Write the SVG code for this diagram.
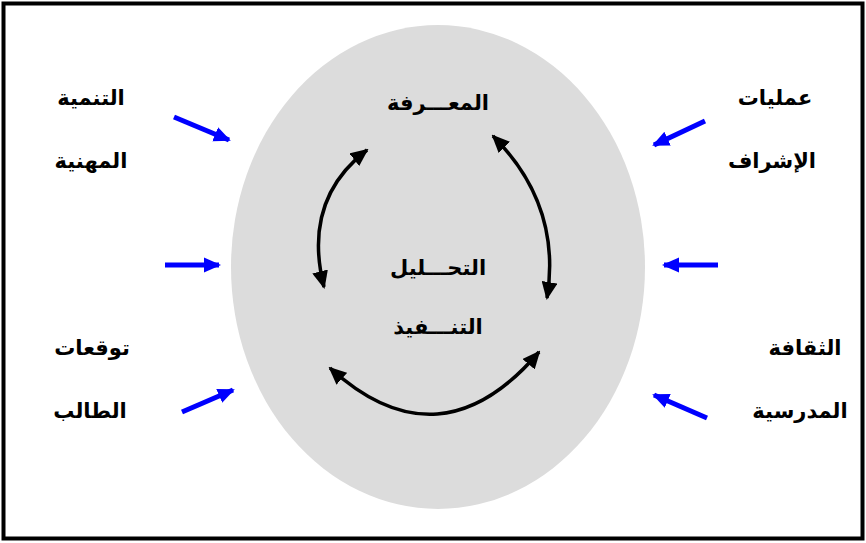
<svg xmlns="http://www.w3.org/2000/svg" width="866" height="543" viewBox="0 0 866 543">
<style>
.lbl{font-family:"DejaVu Sans","Noto Sans",sans-serif;font-weight:bold;font-size:21px;fill:#000;text-anchor:middle;direction:rtl}
.blue{stroke:#0000FF;stroke-width:5;fill:none;marker-end:url(#bh)}
.blk{stroke:#000;stroke-width:3.5;fill:none;marker-start:url(#kh);marker-end:url(#kh)}
</style>
<defs>
<marker id="bh" markerUnits="userSpaceOnUse" markerWidth="17" markerHeight="17" refX="15" refY="8.5" orient="auto"><path d="M0,1 L17,8.5 L0,16 Z" fill="#0000FF"/></marker>
<marker id="kh" markerUnits="userSpaceOnUse" markerWidth="18" markerHeight="16" refX="16" refY="8" orient="auto-start-reverse"><path d="M0,0 L18,8 L0,16 Z" fill="#000"/></marker>
</defs>
<rect x="3.5" y="3.5" width="859" height="535" fill="#fff" stroke="#000" stroke-width="4"/>
<g id="center">
<ellipse cx="438" cy="267" rx="207" ry="242" fill="#DCDCDC"/>
</g>
<g id="n-knowledge"><text class="lbl" x="438" y="110">المعـــرفة</text></g>
<g id="n-analysis"><text class="lbl" x="438" y="275">التحـــليل</text></g>
<g id="n-execution"><text class="lbl" x="438" y="334">التنـــفيذ</text></g>
<g id="n-prof"><text class="lbl" x="91" y="105">التنمية</text><text class="lbl" x="91" y="168">المهنية</text></g>
<g id="n-student"><text class="lbl" x="92" y="355">توقعات</text><text class="lbl" x="90" y="418">الطالب</text></g>
<g id="n-supervision"><text class="lbl" x="775" y="105">عمليات</text><text class="lbl" x="772" y="168">الإشراف</text></g>
<g id="n-culture"><text class="lbl" x="805" y="355">الثقافة</text><text class="lbl" x="800" y="418">المدرسية</text></g>
<g id="connectors">
<path class="blue" d="M174,117 L229,140"/>
<path class="blue" d="M165,265 L219,265"/>
<path class="blue" d="M182,412 L233,390"/>
<path class="blue" d="M705,121 L654,145"/>
<path class="blue" d="M718,265 L664,265"/>
<path class="blue" d="M707,418 L654,395"/>
<path class="blk" d="M324,287 Q302,200 367,150"/>
<path class="blk" d="M493,136 Q562,205 547,298"/>
<path class="blk" d="M330,368 Q440,468 539,352"/>
</g>
</svg>
